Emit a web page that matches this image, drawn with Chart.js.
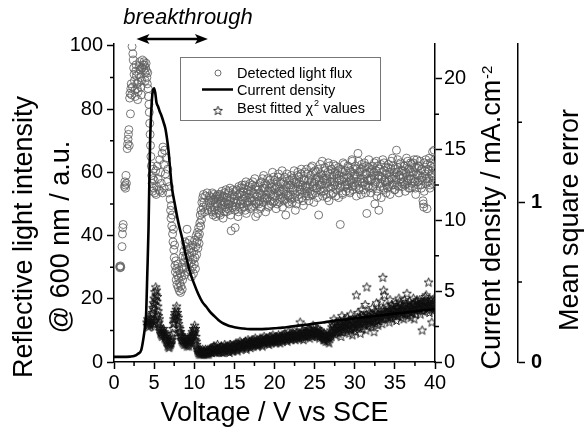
<!DOCTYPE html>
<html><head><meta charset="utf-8">
<script src="https://cdn.jsdelivr.net/npm/chart.js@4.4.1/dist/chart.umd.min.js"></script>
<style>html,body{margin:0;padding:0;background:#fff}#wrap{width:584px;height:427px}</style>
</head><body><div id="wrap"><canvas id="c" width="584" height="427"></canvas></div>
<script>
// ---- Detected light flux (V vs SCE, reflective intensity a.u.) ----
const fluxPoints = [
[0.70,30.2],[0.75,29.8],[0.80,30.4],[0.85,30.0],
[1.00,36.5],[1.05,40.5],[1.10,42.5],[1.15,43.5],
[1.30,55.5],[1.35,57.0],[1.40,56.0],[1.45,55.0],[1.50,59.0],[1.55,56.5],
[1.65,67.5],[1.70,69.0],[1.75,70.5],[1.80,72.0],[1.85,73.5],[1.90,68.5],[2.05,78.5],
[1.95,83.5],[2.00,85.0],[2.10,86.5],[2.15,88.0],[2.20,84.5],[2.25,99.8],[2.30,87.0],[2.35,97.5],[2.40,95.5],[2.45,93.0],[2.50,91.0],[2.55,89.0],[2.60,86.0],[2.65,84.0],
[2.70,92.0],[2.75,94.0],[2.80,90.5],[2.85,88.0],[2.90,86.5],[2.95,83.0],[3.00,85.5],[3.05,88.5],[3.10,91.0],[3.15,93.5],[3.20,95.0],[3.25,92.5],[3.30,90.0],[3.35,87.0],[3.40,84.5],[3.45,89.0],[3.50,93.0],[3.55,95.5],[3.60,94.0],
[3.70,92.5],[3.75,95.0],[3.80,94.0],[3.85,91.5],[3.90,89.0],[3.95,93.0],[4.00,94.5],[4.05,92.0],[4.10,90.0],[4.15,88.0],[4.20,91.5],[4.25,86.5],[4.30,84.0],[4.35,81.5],[4.40,79.0],[4.45,75.5],[4.50,72.0],
[4.55,68.5],[4.60,65.0],[4.65,62.0],[4.70,59.0],[4.75,56.5],[4.80,54.0],[4.85,58.0],[4.90,61.0],[4.95,55.0],[5.00,57.5],
[5.10,53.5],[5.20,60.5],[5.25,53.0],[5.30,55.5],[5.40,62.0],[5.50,58.0],[5.60,54.5],[5.70,64.0],[5.75,54.0],[5.80,60.0],[5.90,56.5],[6.00,66.0],[6.05,53.5],[6.10,68.0],[6.20,62.5],[6.25,55.0],[6.30,67.0],[6.40,59.5],[6.50,64.5],[6.60,57.0],[6.70,61.0],[6.80,53.5],[6.90,55.5],
[7.00,51.5],[7.05,48.0],[7.10,45.5],[7.15,49.5],[7.20,43.0],[7.25,46.5],[7.30,40.5],[7.35,38.0],[7.40,42.0],[7.45,35.5],[7.50,33.0],[7.55,37.0],[7.60,30.5],[7.65,28.5],[7.70,32.0],[7.75,26.0],[7.80,29.5],[7.85,24.5],[7.90,27.5],[7.95,31.0],
[8.00,23.5],[8.05,26.5],[8.10,29.0],[8.15,22.5],[8.20,25.0],[8.25,28.0],[8.30,22.0],[8.35,24.0],[8.40,27.0],[8.45,30.0],[8.50,23.0],[8.55,26.0],[8.60,33.5],[8.65,29.5],[8.70,35.0],[8.75,31.5],[8.80,27.5],[8.85,38.0],[8.90,33.0],[8.95,36.5],
[9.00,30.0],[9.05,34.0],[9.10,42.0],[9.15,37.5],[9.20,32.0],[9.25,28.5],[9.30,35.5],[9.35,31.0],[9.40,38.5],[9.45,33.5],[9.50,29.0],[9.55,36.0],[9.60,31.5],[9.65,27.0],[9.70,34.5],[9.75,30.0],[9.80,37.0],[9.85,32.5],[9.90,28.0],[9.95,35.0],
[10.00,31.0],[10.05,38.5],[10.10,33.0],[10.15,29.5],[10.20,36.5],[10.25,40.0],[10.30,34.0],[10.35,38.0],[10.40,41.0],[10.45,36.0],[10.50,39.5],[10.55,42.5],[10.60,37.5],[10.65,40.5],[10.70,44.0],[10.75,46.5],[10.80,43.0],[10.85,48.0],[10.90,45.0],[10.95,50.5],
[11.00,47.0],[11.05,52.0],[11.10,49.0],[11.15,53.0],[11.20,50.5],[11.30,47.5],[11.40,52.5],[11.50,49.5],[11.60,53.5],[11.70,48.0],[11.80,51.0],[11.90,52.5],
[12.0,49],[12.1,52],[12.2,47.5],[12.3,51],[12.4,53],[12.5,48],[12.6,50.5],[12.7,46],[12.8,52.5],[12.9,49.5],
[13.0,51.5],[13.1,47],[13.2,53],[13.3,50],[13.4,48.5],[13.5,52],[13.6,45.5],[13.7,50.5],[13.8,53.5],[13.9,49],
[14.0,47.5],[14.1,52],[14.2,50],[14.3,54],[14.4,48],[14.5,51],[14.6,41.5],[14.7,49.5],[14.8,53],[14.9,50.5],
[15.0,52.5],[15.1,42.5],[15.2,49],[15.3,54.5],[15.4,51],[15.5,47.5],[15.6,53],[15.7,50],[15.8,55],[15.9,48.5],
[16.0,51.5],[16.1,54],[16.2,49],[16.3,56],[16.4,52],[16.5,47],[16.6,53.5],[16.7,50.5],[16.8,55.5],[16.9,52],
[17.0,48.5],[17.1,54],[17.2,51],[17.3,57],[17.4,49.5],[17.5,53],[17.6,55.5],[17.7,50],[17.8,52.5],[17.9,47],
[18.0,54.5],[18.1,51],[18.2,56.5],[18.3,49],[18.4,53],[18.5,58],[18.6,50.5],[18.7,55],[18.8,52],[18.9,47.5],
[19.0,56],[19.1,51.5],[19.2,54],[19.3,49.5],[19.4,57.5],[19.5,53],[19.6,50],[19.7,55.5],[19.8,52.5],[19.9,58.5],
[20.0,51],[20.1,55],[20.2,48.5],[20.3,57],[20.4,53.5],[20.5,59.5],[20.6,50.5],[20.7,54],[20.8,56.5],[20.9,52],
[21.0,49],[21.1,57],[21.2,54],[21.3,51.5],[21.4,46.5],[21.5,55.5],[21.6,58],[21.7,52.5],[21.8,50],[21.9,56],
[22.0,53],[22.1,59],[22.2,50.5],[22.3,55],[22.4,57.5],[22.5,52],[22.6,48],[22.7,56.5],[22.8,54],[22.9,60],
[23.0,51.5],[23.1,57],[23.2,54.5],[23.3,59.5],[23.4,52],[23.5,56],[23.6,49.5],[23.7,58],[23.8,53.5],[23.9,55],
[24.0,61],[24.1,54],[24.2,57.5],[24.3,51],[24.4,56],[24.5,59],[24.6,53],[24.7,62],[24.8,55.5],[24.9,50.5],
[25.0,57],[25.1,53.5],[25.2,60],[25.3,55],[25.4,58.5],[25.5,46.5],[25.6,56],[25.7,62.5],[25.8,54],[25.9,59],
[26.0,52.5],[26.1,57.5],[26.2,55],[26.3,60.5],[26.4,53],[26.5,58],[26.6,56.5],[26.7,63],[26.8,51],[26.9,59.5],
[27.0,55],[27.1,61],[27.2,57],[27.3,53.5],[27.4,59],[27.5,56],[27.6,62],[27.7,54.5],[27.8,58],[27.9,60.5],
[28.0,52],[28.1,57.5],[28.2,43.5],[28.3,55.5],[28.4,60],[28.5,53],[28.6,58.5],[28.7,62.5],[28.8,56],[28.9,54],
[29.0,59],[29.1,55],[29.2,61.5],[29.3,57],[29.4,53.5],[29.5,60],[29.6,56.5],[29.7,63.5],[29.8,54.5],[29.9,58],
[30.0,56],[30.1,62],[30.2,52.5],[30.3,58.5],[30.4,66],[30.5,55],[30.6,60.5],[30.7,57],[30.8,53],[30.9,61],
[31.0,58],[31.1,54.5],[31.2,63],[31.3,56],[31.4,59.5],[31.5,47],[31.6,57.5],[31.7,61.5],[31.8,55],[31.9,60],
[32.0,53.5],[32.1,58],[32.2,62],[32.3,55.5],[32.4,60],[32.5,50],[32.6,57],[32.7,63.5],[32.8,54],[32.9,59],
[33.0,48],[33.1,61],[33.2,56.5],[33.3,52],[33.4,58.5],[33.5,64],[33.6,55],[33.7,60.5],[33.8,57],[33.9,53.5],
[34.0,59.5],[34.1,55],[34.2,62.5],[34.3,57.5],[34.4,53],[34.5,61],[34.6,58],[34.7,64.5],[34.8,56],[34.9,60],
[35.0,54.5],[35.1,58.5],[35.2,67],[35.3,56],[35.4,61.5],[35.5,53.5],[35.6,59],[35.7,63],[35.8,57],[35.9,55.5],
[36.0,60.5],[36.1,57],[36.2,62],[36.3,54],[36.4,59.5],[36.5,56.5],[36.6,63.5],[36.7,58],[36.8,61],[36.9,55],
[37.0,58],[37.1,62.5],[37.2,55.5],[37.3,60],[37.4,64],[37.5,57],[37.6,53],[37.7,61.5],[37.8,59],[37.9,56],
[38.0,62],[38.1,57.5],[38.2,60.5],[38.3,55],[38.4,58.5],[38.5,51],[38.6,49],[38.7,63],[38.8,59.5],[38.9,56.5],
[39.0,48.5],[39.1,61],[39.2,58],[39.3,64.5],[39.4,56],[39.5,62],[39.6,59],[39.7,66.5],[39.8,57.5],[39.9,67],
[40.0,60.5]
];
// second read of the dense cloud, between the points above
const fluxPointsHalf = [
[12.05,50.5],[12.15,48],[12.25,53.5],[12.35,46.5],[12.45,51.5],[12.55,49],[12.65,52],[12.75,47],[12.85,50],[12.95,53],
[13.05,48],[13.15,52.5],[13.25,46.5],[13.35,51],[13.45,54],[13.55,49.5],[13.65,52.5],[13.75,47.5],[13.85,50.5],[13.95,54.5],
[14.05,51],[14.15,48.5],[14.25,53.5],[14.35,50],[14.45,55],[14.55,46.5],[14.65,52],[14.75,49],[14.85,54.5],[14.95,51.5],
[15.05,48],[15.15,54],[15.25,50.5],[15.35,52.5],[15.45,46],[15.55,55.5],[15.65,49],[15.75,53.5],[15.85,51],[15.95,56],
[16.05,50],[16.15,55],[16.25,52.5],[16.35,48],[16.45,57],[16.55,51],[16.65,54.5],[16.75,49.5],[16.85,53],[16.95,56.5],
[17.05,52],[17.15,49],[17.25,56],[17.35,53.5],[17.45,51],[17.55,58],[17.65,46],[17.75,54.5],[17.85,50.5],[17.95,55.5],
[18.05,50],[18.15,53.5],[18.25,48.5],[18.35,57],[18.45,52],[18.55,55],[18.65,59],[18.75,51.5],[18.85,56.5],[18.95,53],
[19.05,52],[19.15,58],[19.25,49],[19.35,55],[19.45,51],[19.55,56.5],[19.65,54],[19.75,60],[19.85,50.5],[19.95,54.5],
[20.05,57.5],[20.15,52.5],[20.25,55.5],[20.35,50],[20.45,58.5],[20.55,54],[20.65,51.5],[20.75,57],[20.85,53],[20.95,60.5],
[21.05,54.5],[21.15,51],[21.25,58.5],[21.35,56],[21.45,53],[21.55,59.5],[21.65,50.5],[21.75,55],[21.85,57.5],[21.95,52],
[22.05,56],[22.15,51.5],[22.25,58],[22.35,54.5],[22.45,60.5],[22.55,53],[22.65,57],[22.75,50],[22.85,59],[22.95,55.5],
[23.05,58.5],[23.15,53],[23.25,56],[23.35,61],[23.45,54.5],[23.55,51],[23.65,57.5],[23.75,60],[23.85,55.5],[23.95,52.5],
[24.05,55.5],[24.15,59.5],[24.25,52.5],[24.35,58],[24.45,54],[24.55,61.5],[24.65,57],[24.75,53],[24.85,60],[24.95,56.5],
[25.05,60.5],[25.15,55],[25.25,58],[25.35,52],[25.45,61],[25.55,57.5],[25.65,54.5],[25.75,59.5],[25.85,56],[25.95,63.5],
[26.05,58],[26.15,54],[26.25,61.5],[26.35,56.5],[26.45,59],[26.55,52],[26.65,60],[26.75,55.5],[26.85,62],[26.95,57],
[27.05,53],[27.15,58.5],[27.25,55.5],[27.35,62.5],[27.45,57],[27.55,60],[27.65,52.5],[27.75,59.5],[27.85,56],[27.95,61.5],
[28.05,59],[28.15,55],[28.25,61],[28.35,57.5],[28.45,53.5],[28.55,63],[28.65,58],[28.75,55.5],[28.85,60.5],[28.95,57],
[29.05,56],[29.15,62],[29.25,58.5],[29.35,54],[29.45,60.5],[29.55,57.5],[29.65,64],[29.75,55.5],[29.85,61],[29.95,59.5],
[30.05,59],[30.15,55.5],[30.25,61],[30.35,57],[30.45,63.5],[30.55,54.5],[30.65,60],[30.75,58],[30.85,62.5],[30.95,56.5],
[31.05,61.5],[31.15,57],[31.25,59.5],[31.35,53.5],[31.45,62],[31.55,58],[31.65,55.5],[31.75,64],[31.85,57.5],[31.95,60.5],
[32.05,57.5],[32.15,61],[32.25,55],[32.35,59],[32.45,63],[32.55,56.5],[32.65,60.5],[32.75,52.5],[32.85,62],[32.95,58],
[33.05,59],[33.15,55.5],[33.25,62.5],[33.35,58],[33.45,60],[33.55,54.5],[33.65,63],[33.75,57.5],[33.85,61.5],[33.95,56],
[34.05,57],[34.15,61.5],[34.25,55.5],[34.35,60],[34.45,58.5],[34.55,63.5],[34.65,56],[34.75,62],[34.85,59],[34.95,54.5],
[35.05,61],[35.15,57.5],[35.25,60],[35.35,64],[35.45,55.5],[35.55,59],[35.65,62.5],[35.75,58],[35.85,60.5],[35.95,56.5],
[36.05,58.5],[36.15,62],[36.25,56],[36.35,60],[36.45,64.5],[36.55,57.5],[36.65,61],[36.75,55],[36.85,59],[36.95,63],
[37.05,60],[37.15,56.5],[37.25,63],[37.35,58],[37.45,61.5],[37.55,55],[37.65,59.5],[37.75,64],[37.85,57],[37.95,62],
[38.05,59],[38.15,63.5],[38.25,56],[38.35,61],[38.45,57.5],[38.55,50],[38.65,54],[38.75,60.5],[38.85,64],[38.95,58],
[39.05,62.5],[39.15,57],[39.25,60.5],[39.35,55],[39.45,63],[39.55,59.5],[39.65,56.5],[39.75,61.5],[39.85,58.5],[39.95,64]
];

// ---- Current density (V vs SCE, mA.cm-2) ----
const currentVoltage = [0,1,2,2.5,3,3.4,3.7,3.9,4.0,4.15,4.3,4.5,4.7,4.85,5.0,5.15,5.3,5.5,5.7,5.95,6.2,6.4,6.6,6.8,7.0,7.2,7.6,8.0,8.6,9.0,9.5,10,10.5,11,11.5,12,12.5,13,13.5,14,14.5,15,16,17,18,19,20,21,22,23,24,25,26,27,28,29,30,31,32,33,34,35,36,37,38,39,40];
const currentDensity = [0.36,0.36,0.38,0.42,0.58,0.85,1.79,2.68,3.35,6.25,9.38,15.63,18.31,19.2,19.34,18.98,18.31,18.04,17.7,17.35,16.9,16.5,15.8,14.9,13.6,12.4,11.1,9.9,8.5,7.4,6.3,5.5,4.8,4.25,3.9,3.53,3.24,2.97,2.77,2.63,2.52,2.46,2.37,2.32,2.32,2.34,2.39,2.43,2.5,2.57,2.63,2.72,2.79,2.88,2.95,3.01,3.08,3.15,3.22,3.28,3.35,3.42,3.48,3.55,3.62,3.68,3.73];

// ---- Best fitted chi-square values (V vs SCE, mean square error) ----
const chiPoints = [
[4.10,.25],[4.15,.23],[4.20,.27],[4.25,.24],[4.30,.22],[4.35,.26],[4.40,.24],[4.45,.28],[4.50,.25],[4.55,.23],[4.60,.27],[4.65,.24],[4.70,.30],
[4.75,.26],[4.80,.31],[4.85,.34],[4.90,.37],[4.95,.33],[5.00,.40],[5.05,.36],[5.10,.44],[5.15,.39],[5.20,.47],[5.25,.42],[5.30,.45],[5.35,.38],[5.40,.41],[5.45,.35],[5.50,.32],[5.55,.29],[5.60,.25],[5.65,.27],[5.70,.22],
[4.95,.24],[5.05,.22],[5.15,.26],[5.25,.28],[5.35,.30],[5.45,.24],
[5.75,.20],[5.80,.18],[5.85,.21],[5.90,.17],[5.95,.19],[6.00,.16],[6.05,.20],[6.10,.18],[6.15,.21],[6.20,.17],[6.25,.19],[6.30,.15],[6.35,.18],[6.40,.16],[6.45,.14],[6.50,.17],
[6.55,.13],[6.60,.15],[6.65,.12],[6.70,.10],[6.75,.14],[6.80,.11],[6.85,.09],[6.90,.12],[6.95,.10],[7.00,.13],[7.05,.11],[7.10,.14],[7.15,.12],[7.20,.16],[7.25,.14],[7.30,.18],[7.35,.21],
[7.40,.24],[7.45,.27],[7.50,.25],[7.55,.29],[7.60,.31],[7.65,.27],[7.70,.30],[7.75,.33],[7.80,.35],[7.85,.29],[7.90,.31],[7.95,.26],[8.00,.28],[8.05,.24],[8.10,.22],[8.15,.19],[8.20,.21],[8.25,.17],[8.30,.19],
[8.35,.16],[8.40,.14],[8.45,.17],[8.50,.13],[8.55,.15],[8.60,.12],[8.65,.16],[8.70,.14],[8.75,.11],[8.80,.13],[8.85,.15],[8.90,.12],[8.95,.14],[9.00,.11],[9.05,.13],[9.10,.10],[9.15,.12],[9.20,.14],[9.25,.11],[9.30,.13],[9.35,.10],[9.40,.12],[9.45,.15],[9.50,.13],[9.55,.16],
[9.60,.14],[9.65,.17],[9.70,.15],[9.75,.19],[9.80,.16],[9.85,.18],[9.90,.21],[9.95,.17],[10.00,.20],[10.05,.23],[10.10,.19],[10.15,.21],[10.20,.16],[10.25,.13],[10.30,.11],[10.35,.09],[10.40,.08],[10.00,.12],[10.10,.14],
[10.45,.07],[10.50,.06],[10.55,.08],[10.60,.05],[10.65,.07],[10.70,.06],[10.75,.08],[10.80,.05],[10.85,.06],[10.90,.07],[10.95,.05],[11.00,.06],[11.05,.08],[11.10,.05],[11.15,.07],[11.20,.06],[11.25,.05],[11.30,.07],[11.35,.06],[11.40,.08],[11.45,.05],[11.50,.06],[11.55,.07],[11.60,.05],[11.65,.06],[11.70,.08],[11.75,.06],[11.80,.05],[11.85,.07],[11.90,.06],[11.95,.08],
[12.0,.07],[12.1,.09],[12.2,.06],[12.3,.08],[12.4,.10],[12.5,.07],[12.6,.09],[12.7,.06],[12.8,.08],[12.9,.11],
[13.0,.08],[13.1,.06],[13.2,.09],[13.3,.07],[13.4,.10],[13.5,.08],[13.6,.06],[13.7,.09],[13.8,.11],[13.9,.07],
[14.0,.09],[14.1,.07],[14.2,.10],[14.3,.08],[14.4,.06],[14.5,.11],[14.6,.09],[14.7,.07],[14.8,.10],[14.9,.08],
[15.0,.10],[15.1,.08],[15.2,.12],[15.3,.09],[15.4,.07],[15.5,.11],[15.6,.10],[15.7,.13],[15.8,.08],[15.9,.10],
[16.0,.11],[16.1,.09],[16.2,.12],[16.3,.10],[16.4,.13],[16.5,.08],[16.6,.11],[16.7,.14],[16.8,.10],[16.9,.12],
[17.0,.09],[17.1,.12],[17.2,.14],[17.3,.11],[17.4,.10],[17.5,.13],[17.6,.15],[17.7,.11],[17.8,.12],[17.9,.10],
[18.0,.13],[18.1,.11],[18.2,.15],[18.3,.12],[18.4,.14],[18.5,.10],[18.6,.13],[18.7,.16],[18.8,.12],[18.9,.14],
[19.0,.15],[19.1,.12],[19.2,.14],[19.3,.11],[19.4,.16],[19.5,.13],[19.6,.12],[19.7,.15],[19.8,.17],[19.9,.13],
[20.0,.14],[20.1,.16],[20.2,.12],[20.3,.15],[20.4,.13],[20.5,.17],[20.6,.14],[20.7,.12],[20.8,.16],[20.9,.15],
[21.0,.13],[21.1,.17],[21.2,.15],[21.3,.18],[21.4,.14],[21.5,.16],[21.6,.13],[21.7,.19],[21.8,.15],[21.9,.17],
[22.0,.16],[22.1,.14],[22.2,.18],[22.3,.15],[22.4,.20],[22.5,.17],[22.6,.14],[22.7,.16],[22.8,.19],[22.9,.15],
[23.0,.17],[23.1,.15],[23.2,.25],[23.3,.18],[23.4,.16],[23.5,.20],[23.6,.14],[23.7,.18],[23.8,.22],[23.9,.16],
[24.0,.19],[24.1,.16],[24.2,.21],[24.3,.17],[24.4,.15],[24.5,.20],[24.6,.18],[24.7,.16],[24.8,.23],[24.9,.19],
[25.0,.22],[25.1,.17],[25.2,.19],[25.3,.16],[25.4,.21],[25.5,.18],[25.6,.15],[25.7,.20],[25.8,.17],[25.9,.19],
[26.0,.16],[26.1,.14],[26.2,.18],[26.3,.15],[26.4,.13],[26.5,.17],[26.6,.14],[26.7,.16],[26.8,.12],[26.9,.18],
[27.0,.20],[27.1,.16],[27.2,.24],[27.3,.18],[27.4,.27],[27.5,.21],[27.6,.17],[27.7,.25],[27.8,.19],[27.9,.23],
[28.0,.18],[28.1,.26],[28.2,.21],[28.3,.16],[28.4,.29],[28.5,.23],[28.6,.19],[28.7,.27],[28.8,.22],[28.9,.25],
[29.0,.20],[29.1,.28],[29.2,.23],[29.3,.18],[29.4,.26],[29.5,.30],[29.6,.21],[29.7,.17],[29.8,.25],[29.9,.22],
[30.0,.27],[30.1,.19],[30.2,.42],[30.3,.24],[30.4,.31],[30.5,.22],[30.6,.28],[30.7,.18],[30.8,.25],[30.9,.33],
[31.0,.21],[31.1,.29],[31.2,.24],[31.3,.36],[31.4,.20],[31.5,.47],[31.6,.27],[31.7,.23],[31.8,.31],[31.9,.26],
[32.0,.30],[32.1,.22],[32.2,.34],[32.3,.27],[32.4,.19],[32.5,.32],[32.6,.25],[32.7,.37],[32.8,.28],[32.9,.23],
[33.0,.26],[33.1,.33],[33.2,.29],[33.3,.38],[33.4,.24],[33.5,.53],[33.6,.45],[33.7,.42],[33.8,.31],[33.9,.27],
[34.0,.35],[34.1,.28],[34.2,.32],[34.3,.25],[34.4,.39],[34.5,.30],[34.6,.36],[34.7,.27],[34.8,.33],[34.9,.29],
[35.0,.31],[35.1,.37],[35.2,.26],[35.3,.34],[35.4,.29],[35.5,.40],[35.6,.38],[35.7,.32],[35.8,.28],[35.9,.35],
[36.0,.33],[36.1,.27],[36.2,.39],[36.3,.30],[36.4,.36],[36.5,.43],[36.6,.29],[36.7,.34],[36.8,.38],[36.9,.31],
[37.0,.28],[37.1,.36],[37.2,.32],[37.3,.40],[37.4,.27],[37.5,.35],[37.6,.30],[37.7,.38],[37.8,.33],[37.9,.37],
[38.0,.34],[38.1,.39],[38.2,.30],[38.3,.37],[38.4,.20],[38.5,.35],[38.6,.32],[38.7,.38],[38.8,.41],[38.9,.42],
[39.0,.33],[39.1,.36],[39.2,.50],[39.3,.31],[39.4,.39],[39.5,.35],[39.6,.25],[39.7,.37],[39.8,.32],[39.9,.40],
[40.0,.36]
];
const chiPointsHalf = [
[12.05,.08],[12.15,.06],[12.25,.09],[12.35,.07],[12.45,.08],[12.55,.10],[12.65,.07],[12.75,.08],[12.85,.09],[12.95,.07],
[13.05,.07],[13.15,.09],[13.25,.08],[13.35,.10],[13.45,.06],[13.55,.09],[13.65,.08],[13.75,.07],[13.85,.09],[13.95,.10],
[14.05,.08],[14.15,.10],[14.25,.07],[14.35,.09],[14.45,.11],[14.55,.08],[14.65,.10],[14.75,.09],[14.85,.07],[14.95,.11],
[15.05,.09],[15.15,.11],[15.25,.10],[15.35,.08],[15.45,.12],[15.55,.09],[15.65,.11],[15.75,.10],[15.85,.12],[15.95,.09],
[16.05,.10],[16.15,.12],[16.25,.11],[16.35,.13],[16.45,.09],[16.55,.12],[16.65,.10],[16.75,.11],[16.85,.13],[16.95,.11],
[17.05,.13],[17.15,.10],[17.25,.12],[17.35,.14],[17.45,.12],[17.55,.11],[17.65,.13],[17.75,.12],[17.85,.14],[17.95,.11],
[18.05,.12],[18.15,.14],[18.25,.13],[18.35,.11],[18.45,.15],[18.55,.13],[18.65,.12],[18.75,.14],[18.85,.13],[18.95,.15],
[19.05,.13],[19.15,.15],[19.25,.12],[19.35,.14],[19.45,.13],[19.55,.16],[19.65,.14],[19.75,.13],[19.85,.15],[19.95,.14],
[20.05,.15],[20.15,.13],[20.25,.16],[20.35,.14],[20.45,.15],[20.55,.13],[20.65,.16],[20.75,.15],[20.85,.14],[20.95,.17],
[21.05,.15],[21.15,.14],[21.25,.16],[21.35,.15],[21.45,.17],[21.55,.14],[21.65,.16],[21.75,.15],[21.85,.17],[21.95,.16],
[22.05,.15],[22.15,.17],[22.25,.16],[22.35,.18],[22.45,.15],[22.55,.17],[22.65,.16],[22.75,.18],[22.85,.16],[22.95,.17],
[23.05,.16],[23.15,.18],[23.25,.17],[23.35,.15],[23.45,.19],[23.55,.17],[23.65,.18],[23.75,.16],[23.85,.19],[23.95,.17],
[24.05,.17],[24.15,.19],[24.25,.18],[24.35,.20],[24.45,.17],[24.55,.18],[24.65,.19],[24.75,.17],[24.85,.20],[24.95,.18],
[25.05,.18],[25.15,.20],[25.25,.17],[25.35,.19],[25.45,.18],[25.55,.16],[25.65,.19],[25.75,.18],[25.85,.17],[25.95,.16],
[26.05,.15],[26.15,.17],[26.25,.14],[26.35,.16],[26.45,.15],[26.55,.16],[26.65,.13],[26.75,.15],[26.85,.16],[26.95,.17],
[27.05,.18],[27.15,.22],[27.25,.19],[27.35,.23],[27.45,.20],[27.55,.24],[27.65,.21],[27.75,.19],[27.85,.22],[27.95,.20],
[28.05,.21],[28.15,.23],[28.25,.19],[28.35,.24],[28.45,.22],[28.55,.20],[28.65,.25],[28.75,.23],[28.85,.21],[28.95,.24],
[29.05,.24],[29.15,.21],[29.25,.26],[29.35,.23],[29.45,.20],[29.55,.25],[29.65,.22],[29.75,.27],[29.85,.24],[29.95,.21],
[30.05,.23],[30.15,.26],[30.25,.22],[30.35,.28],[30.45,.25],[30.55,.23],[30.65,.27],[30.75,.24],[30.85,.29],[30.95,.26],
[31.05,.25],[31.15,.28],[31.25,.23],[31.35,.27],[31.45,.30],[31.55,.25],[31.65,.29],[31.75,.26],[31.85,.24],[31.95,.28],
[32.05,.27],[32.15,.25],[32.25,.30],[32.35,.26],[32.45,.29],[32.55,.24],[32.65,.31],[32.75,.28],[32.85,.26],[32.95,.30],
[33.05,.29],[33.15,.27],[33.25,.31],[33.35,.28],[33.45,.33],[33.55,.30],[33.65,.27],[33.75,.32],[33.85,.29],[33.95,.31],
[34.05,.31],[34.15,.29],[34.25,.34],[34.35,.30],[34.45,.28],[34.55,.33],[34.65,.31],[34.75,.35],[34.85,.30],[34.95,.32],
[35.05,.33],[35.15,.30],[35.25,.35],[35.35,.31],[35.45,.34],[35.55,.32],[35.65,.36],[35.75,.30],[35.85,.33],[35.95,.31],
[36.05,.32],[36.15,.35],[36.25,.31],[36.35,.37],[36.45,.33],[36.55,.30],[36.65,.36],[36.75,.32],[36.85,.35],[36.95,.34],
[37.05,.34],[37.15,.31],[37.25,.36],[37.35,.33],[37.45,.37],[37.55,.32],[37.65,.35],[37.75,.39],[37.85,.34],[37.95,.36],
[38.05,.36],[38.15,.33],[38.25,.35],[38.35,.38],[38.45,.32],[38.55,.36],[38.65,.34],[38.75,.37],[38.85,.39],[38.95,.35],
[39.05,.35],[39.15,.38],[39.25,.34],[39.35,.37],[39.45,.36],[39.55,.33],[39.65,.39],[39.75,.36],[39.85,.38],[39.95,.34]
];

// ---- Tick values ----
const xTickStep = 5, xMinorStep = 2.5;
const leftMinor = [10,30,50,70,90];
const currentMinor = [2.5,7.5,12.5,17.5];
const mseMinor = [0.5,1.5];
const arrowRange = [2.8, 11.7];

const FONT = '"Liberation Sans", Arial, Helvetica, sans-serif';

function makeStar(size, lw, color){
  const c = document.createElement('canvas');
  c.width = size; c.height = size;
  const g = c.getContext('2d');
  const cx = size/2, cy = size/2 + 0.4, R = size/2 - 0.8, r = R*0.42;
  g.beginPath();
  for (let i=0;i<10;i++){
    const a = -Math.PI/2 + i*Math.PI/5;
    const rad = (i%2===0)?R:r;
    const px = cx + rad*Math.cos(a), py = cy + rad*Math.sin(a);
    if(i===0) g.moveTo(px,py); else g.lineTo(px,py);
  }
  g.closePath();
  g.strokeStyle = color; g.lineWidth = lw; g.stroke();
  return c;
}
const starImg = makeStar(11, 0.9, '#111');

const minorTicks = {
  id:'minorTicks',
  afterDraw(chart){
    const ctx = chart.ctx, s = chart.scales;
    ctx.save();
    ctx.strokeStyle = '#000'; ctx.lineWidth = 1.5;
    ctx.beginPath();
    for (let v = xMinorStep; v < 40; v += xTickStep){
      const px = s.x.getPixelForValue(v);
      ctx.moveTo(px, s.x.top); ctx.lineTo(px, s.x.top + 4);
    }
    leftMinor.forEach(v=>{const py=s.y.getPixelForValue(v); ctx.moveTo(s.y.right,py); ctx.lineTo(s.y.right-4,py);});
    currentMinor.forEach(v=>{const py=s.yCur.getPixelForValue(v); ctx.moveTo(s.yCur.left,py); ctx.lineTo(s.yCur.left+4,py);});
    mseMinor.forEach(v=>{const py=s.yMse.getPixelForValue(v); ctx.moveTo(s.yMse.left,py); ctx.lineTo(s.yMse.left+4,py);});
    ctx.stroke();
    ctx.restore();
  }
};

const decorations = {
  id:'decorations',
  afterDraw(chart){
    const ctx = chart.ctx, s = chart.scales, area = chart.chartArea;
    ctx.save();
    ctx.fillStyle = '#000';
    ctx.font = '27px ' + FONT;
    ctx.textAlign = 'center'; ctx.textBaseline = 'alphabetic';
    ctx.fillText('Voltage / V vs SCE', (area.left+area.right)/2, 421);
    const rot = (x, y, fn)=>{ ctx.save(); ctx.translate(x,y); ctx.rotate(-Math.PI/2); fn(); ctx.restore(); };
    rot(32, 237, ()=>ctx.fillText('Reflective light intensity', 0, 0));
    rot(69, 237, ()=>ctx.fillText('@ 600 nm / a.u.', 0, 0));
    rot(578, 220, ()=>ctx.fillText('Mean square error', 0, 0));
    rot(500, 218, ()=>{
      const main = 'Current density / mA.cm';
      ctx.font = '27px ' + FONT;
      const w = ctx.measureText(main).width;
      ctx.font = '15px ' + FONT;
      const ws = ctx.measureText('-2').width;
      const start = -(w + ws)/2;
      ctx.textAlign = 'left';
      ctx.font = '27px ' + FONT;
      ctx.fillText(main, start, 0);
      ctx.font = '15px ' + FONT;
      ctx.fillText('-2', start + w + 1, -8);
    });
    ctx.textAlign = 'center';
    ctx.font = 'italic 22px ' + FONT;
    ctx.fillText('breakthrough', 188, 24);
    const ax1 = s.x.getPixelForValue(arrowRange[0]), ax2 = s.x.getPixelForValue(arrowRange[1]), ay = 39;
    ctx.strokeStyle = '#000'; ctx.lineWidth = 2.5;
    ctx.beginPath(); ctx.moveTo(ax1+6, ay); ctx.lineTo(ax2-6, ay); ctx.stroke();
    ctx.beginPath();
    ctx.moveTo(ax1, ay); ctx.lineTo(ax1+13, ay-5); ctx.lineTo(ax1+10, ay); ctx.lineTo(ax1+13, ay+5); ctx.closePath();
    ctx.moveTo(ax2, ay); ctx.lineTo(ax2-13, ay-5); ctx.lineTo(ax2-10, ay); ctx.lineTo(ax2-13, ay+5); ctx.closePath();
    ctx.fill();
    // legend
    ctx.fillStyle = '#fff';
    ctx.fillRect(180.5, 57.5, 200, 63);
    ctx.strokeStyle = '#777'; ctx.lineWidth = 1;
    ctx.strokeRect(180.5, 57.5, 200, 63);
    ctx.strokeStyle = '#606060'; ctx.lineWidth = 0.9;
    ctx.beginPath(); ctx.arc(218, 73, 3, 0, Math.PI*2); ctx.stroke();
    ctx.strokeStyle = '#000'; ctx.lineWidth = 2.5;
    ctx.beginPath(); ctx.moveTo(202, 89.5); ctx.lineTo(233, 89.5); ctx.stroke();
    ctx.drawImage(starImg, 218-5.5, 110.5-5.5);
    ctx.fillStyle = '#000';
    ctx.textAlign = 'left';
    ctx.font = '14.5px ' + FONT;
    ctx.fillText('Detected light flux', 237, 78);
    ctx.fillText('Current density', 237, 95);
    const t1 = 'Best fitted \u03C7';
    ctx.fillText(t1, 237, 113);
    const w1 = ctx.measureText(t1).width;
    ctx.font = '9px ' + FONT;
    ctx.fillText('2', 237 + w1 + 1, 106);
    ctx.font = '14.5px ' + FONT;
    ctx.fillText(' values', 237 + w1 + 6, 113);
    ctx.restore();
  }
};

const tickFont = {size:20, family:FONT};
new Chart(document.getElementById('c'), {
  type:'scatter',
  data:{datasets:[
    {label:'Current density', type:'line', data: currentVoltage.map((v,i)=>({x:v,y:currentDensity[i]})),
     yAxisID:'yCur', borderColor:'#000', borderWidth:2.6, pointRadius:0, cubicInterpolationMode:'monotone', fill:false},
    {label:'Best fitted \u03C7\u00B2 values', data: chiPoints.concat(chiPointsHalf).map(p=>({x:p[0],y:p[1]})), yAxisID:'yMse',
     pointStyle: starImg, pointRadius:5},
    {label:'Detected light flux', data: fluxPoints.concat(fluxPointsHalf).map(p=>({x:p[0],y:p[1]})), yAxisID:'y',
     pointStyle:'circle', pointRadius:4, borderColor:'#606060', borderWidth:0.85, backgroundColor:'rgba(0,0,0,0)'}
  ]},
  options:{
    responsive:false, animation:false, devicePixelRatio:1,
    layout:{padding:{top:44,left:0,right:0,bottom:0}},
    plugins:{legend:{display:false}, tooltip:{enabled:false}},
    scales:{
      x:{type:'linear', position:'bottom', min:0, max:40,
         ticks:{stepSize:xTickStep, color:'#000', font:tickFont, padding:2, maxRotation:0, includeBounds:false},
         grid:{drawOnChartArea:false, drawTicks:true, tickLength:7, color:'#000', tickWidth:1.5},
         border:{display:true, color:'#000', width:1.5},
         afterFit(sc){ sc.height = 65; }},
      y:{position:'left', min:0, max:100.6,
         ticks:{stepSize:20, color:'#000', font:tickFont, padding:4, includeBounds:false},
         grid:{drawOnChartArea:false, drawTicks:true, tickLength:7, color:'#000', tickWidth:1.5},
         border:{display:true, color:'#000', width:1.5},
         afterFit(sc){ sc.width = 114; }},
      yCur:{position:'right', min:0, max:22.47, weight:0,
         ticks:{stepSize:5, color:'#000', font:tickFont, padding:2, includeBounds:false},
         grid:{drawOnChartArea:false, drawTicks:true, tickLength:7, color:'#000', tickWidth:1.5},
         border:{display:true, color:'#000', width:1.5},
         afterFit(sc){ sc.width = 83; }},
      yMse:{position:'right', min:0, max:1.99, weight:1,
         ticks:{stepSize:1, color:'#000', font:{size:20, family:FONT, weight:'bold'}, padding:6, includeBounds:false},
         grid:{drawOnChartArea:false, drawTicks:true, tickLength:7, color:'#000', tickWidth:1.5},
         border:{display:true, color:'#000', width:1.5},
         afterFit(sc){ sc.width = 66; }}
    }
  },
  plugins:[minorTicks, decorations]
});
</script>
</body></html>
